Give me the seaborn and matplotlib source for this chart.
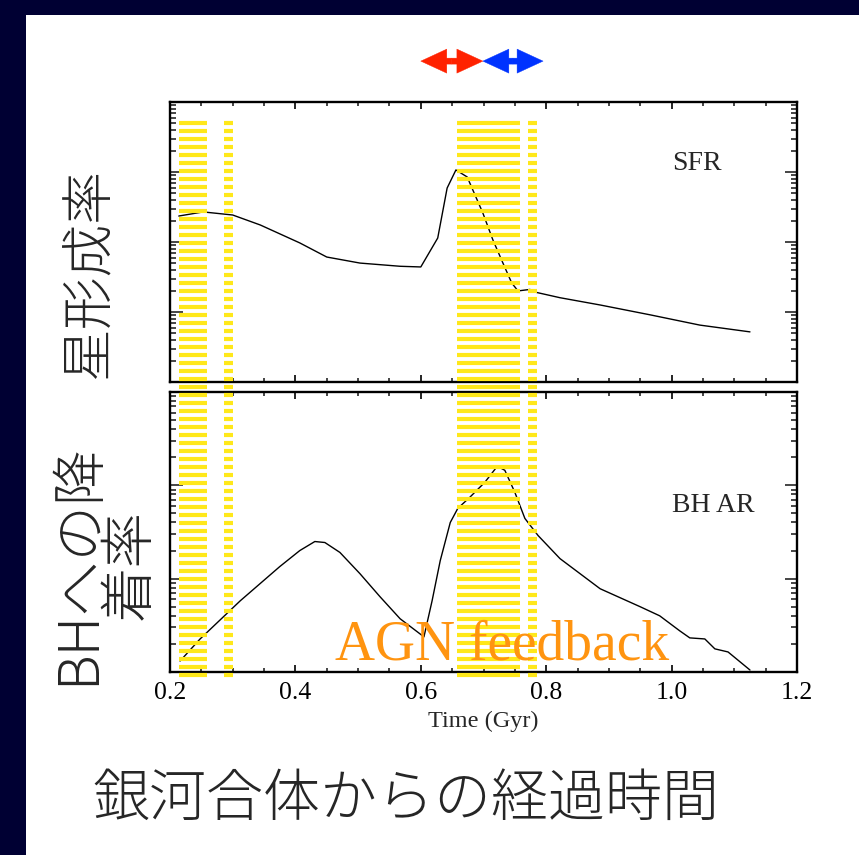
import numpy as np
import pandas as pd
import seaborn as sns
import matplotlib
matplotlib.use("Agg")
import matplotlib.pyplot as plt
from matplotlib.patches import Rectangle
from matplotlib.ticker import MultipleLocator, LogLocator, NullFormatter, FormatStrFormatter

# ---------------- data ----------------
sfr_time = [0.214, 0.253, 0.300, 0.344, 0.407, 0.450, 0.503, 0.567, 0.600, 0.627,
            0.642, 0.656, 0.674, 0.683, 0.699, 0.715, 0.731, 0.745, 0.755, 0.774,
            0.785, 0.822, 0.886, 0.966, 1.045, 1.125]
sfr_values = [2.35, 2.69, 2.43, 1.75, 0.97, 0.61, 0.50, 0.45, 0.44, 1.14,
              5.90, 10.7, 8.49, 5.53, 2.59, 1.07, 0.50, 0.26, 0.20, 0.21,
              0.19, 0.16, 0.126, 0.091, 0.065, 0.052]

bh_time = [0.216, 0.248, 0.312, 0.375, 0.407, 0.431, 0.447, 0.471, 0.503, 0.535,
           0.567, 0.605, 0.618, 0.631, 0.647, 0.659, 0.678, 0.702, 0.722, 0.734,
           0.750, 0.766, 0.787, 0.822, 0.886, 0.950, 0.981, 1.013, 1.029, 1.053,
           1.069, 1.090, 1.125]
bh_values = [0.00131, 0.00226, 0.00579, 0.01346, 0.0200, 0.0250, 0.0244, 0.0191, 0.0113, 0.0064,
             0.00372, 0.00238, 0.00579, 0.0156, 0.0400, 0.0566, 0.0743, 0.1076, 0.160, 0.145,
             0.0841, 0.0442, 0.0290, 0.0164, 0.0078, 0.0050, 0.0040, 0.00276, 0.00232, 0.00226,
             0.00177, 0.00164, 0.00105]

# AGN feedback bands (time ranges, Gyr)
band_start = [0.214, 0.286, 0.658, 0.771]
band_end = [0.259, 0.300, 0.759, 0.786]

# arrows at the top (time ranges, Gyr)
arrow_start = [0.600, 0.699]
arrow_end = [0.699, 0.795]
arrow_colors = ["#FF2200", "#0033FF"]

x_ticks = [0.2, 0.4, 0.6, 0.8, 1.0, 1.2]

top_label = "星形成率"
bottom_label = "BHへの降\n着率"
x_label_jp = "銀河合体からの経過時間"
x_label = "Time (Gyr)"
panel_labels = ["SFR", "BH AR"]
feedback_text = "AGN feedback"

# ---------------- styling ----------------
sns.set_style("ticks")
plt.rcParams["font.family"] = ["Liberation Serif", "DejaVu Serif"]
CJK = ["Noto Sans CJK JP", "DejaVu Sans"]

W, H = 859, 855
fig = plt.figure(figsize=(W / 100, H / 100), dpi=100)
fig.patch.set_facecolor("#000033")
fig.add_artist(Rectangle((26 / W, 0), 1 - 26 / W, (H - 15) / H,
                         transform=fig.transFigure, facecolor="white",
                         edgecolor="none", zorder=-5))

L, R = 170, 797
ax_top = fig.add_axes([L / W, (H - 382) / H, (R - L) / W, 280 / H])
ax_bot = fig.add_axes([L / W, (H - 672) / H, (R - L) / W, 280 / H])

sfr_df = pd.DataFrame({"time": sfr_time, "value": sfr_values})
bh_df = pd.DataFrame({"time": bh_time, "value": bh_values})

sns.lineplot(data=sfr_df, x="time", y="value", ax=ax_top, color="black",
             lw=1.0, sort=False, estimator=None)
sns.lineplot(data=bh_df, x="time", y="value", ax=ax_bot, color="black",
             lw=1.0, sort=False, estimator=None)

ax_top.set_yscale("log")
ax_bot.set_yscale("log")
ax_top.set_ylim(1e-2, 1e2)
ax_bot.set_ylim(1e-3, 1e0)

for ax in (ax_top, ax_bot):
    ax.set_facecolor("none")
    ax.set_xlim(0.2, 1.2)
    ax.set_xticks(x_ticks)
    ax.xaxis.set_minor_locator(MultipleLocator(0.05))
    ax.xaxis.set_major_formatter(FormatStrFormatter("%.1f"))
    ax.yaxis.set_major_locator(LogLocator(base=10))
    ax.yaxis.set_minor_locator(LogLocator(base=10, subs=np.arange(2, 10)))
    ax.yaxis.set_minor_formatter(NullFormatter())
    ax.tick_params(axis="x", which="major", direction="in", length=5, width=1.2,
                   top=True, bottom=True, labelsize=18.5, pad=7, colors="black")
    ax.tick_params(axis="x", which="minor", direction="in", length=3, width=1.2,
                   top=True, bottom=True)
    ax.tick_params(axis="y", which="major", direction="in", length=9, width=1.2,
                   left=True, right=True, labelleft=False)
    ax.tick_params(axis="y", which="minor", direction="in", length=4.5, width=1.2,
                   left=True, right=True, labelleft=False)
    for s in ax.spines.values():
        s.set_linewidth(1.7)
        s.set_color("black")
    ax.set_ylabel("")

ax_top.tick_params(axis="x", labelbottom=False)
ax_top.set_xlabel("")
ax_bot.set_xlabel(x_label, fontsize=17.5, labelpad=5)

ax_top.text(0.84, 0.78, panel_labels[0], transform=ax_top.transAxes,
            fontsize=20, ha="center", va="center")
ax_bot.text(0.867, 0.595, panel_labels[1], transform=ax_bot.transAxes,
            fontsize=20, ha="center", va="center")

# arrows above the top panel
for a0, a1, c in zip(arrow_start, arrow_end, arrow_colors):
    mid = (a0 + a1) / 2
    for end in (a0, a1):
        ax_top.annotate("", xy=(end, 1.146), xytext=(mid, 1.146),
                        xycoords=ax_top.get_xaxis_transform(),
                        arrowprops=dict(arrowstyle="simple,head_length=18.7,head_width=17.3,tail_width=4.3",
                                        mutation_scale=1, fc=c, ec=c, lw=0.3,
                                        shrinkA=0, shrinkB=0),
                        annotation_clip=False)

# striped yellow bands drawn over both panels
n_stripes = 70
ax_ov = fig.add_axes([L / W, (H - 679) / H, (R - L) / W, 8 * n_stripes / H])
ax_ov.set_xlim(0.2, 1.2)
ax_ov.set_ylim(-0.5, n_stripes - 0.5)
ax_ov.axis("off")
ax_ov.patch.set_alpha(0)
stripe_rows = np.arange(n_stripes)
for b0, b1 in zip(band_start, band_end):
    ax_ov.hlines(stripe_rows, b0, b1, color="#FFE81A", lw=3.0, capstyle="butt")

fig.text(502 / W, 1 - 645 / H, feedback_text, color="#FF9410", fontsize=40,
         ha="center", va="center", zorder=10)

# Japanese labels
fig.text(90 / W, 1 - 273 / H, top_label, rotation=90, ha="center", va="center",
         fontsize=38, family=CJK, fontweight="light")
fig.text(104 / W, 1 - 564 / H, bottom_label, rotation=90, ha="center", va="center",
         multialignment="center", linespacing=0.85, fontsize=40, family=CJK,
         fontweight="light")
fig.text(406 / W, 1 - 800 / H, x_label_jp, ha="center", va="center",
         fontsize=41, family=CJK, fontweight="light")

fig.savefig("out.png", dpi=100)
